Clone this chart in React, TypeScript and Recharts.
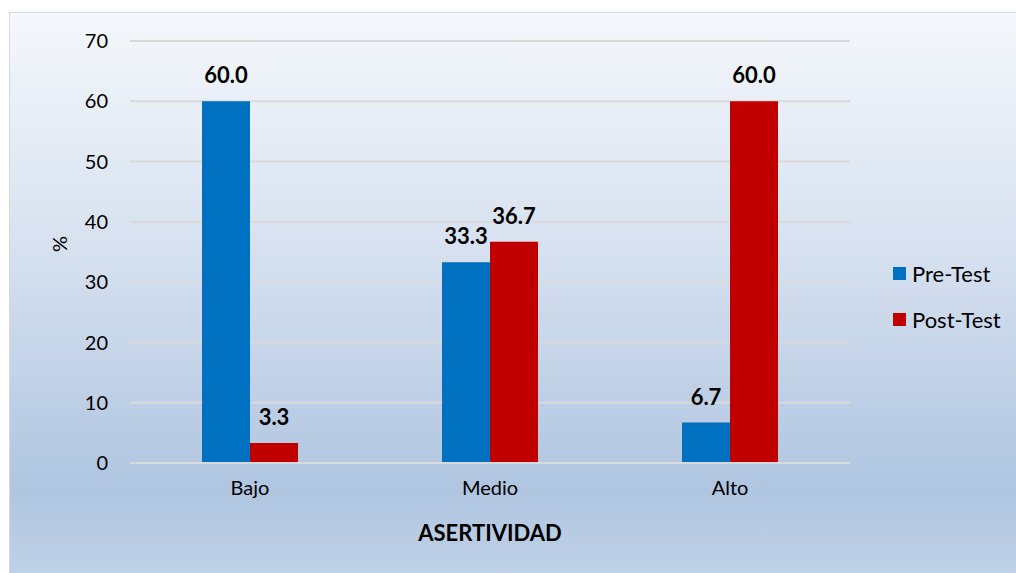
import React from "react";
import {
  Bar,
  BarChart,
  CartesianGrid,
  LabelList,
  Legend,
  XAxis,
  YAxis,
} from "recharts";

const categories = ["Bajo", "Medio", "Alto"];
const preTest = [60.0, 33.3, 6.7];
const postTest = [3.3, 36.7, 60.0];
const yTicks = [0, 10, 20, 30, 40, 50, 60, 70];

const FONT = "Lato, 'Open Sans', sans-serif";

const chartData = categories.map((name, i) => ({
  name,
  pre: preTest[i],
  post: postTest[i],
}));

function LegendBox() {
  const items = [
    { label: "Pre-Test", color: "#0070C0" },
    { label: "Post-Test", color: "#C00000" },
  ];
  return (
    <div style={{ fontFamily: FONT, fontSize: 22, color: "#000" }}>
      {items.map((it) => (
        <div
          key={it.label}
          style={{ display: "flex", alignItems: "center", height: 46 }}
        >
          <span
            style={{
              display: "inline-block",
              width: 13,
              height: 13,
              background: it.color,
              marginRight: 6,
            }}
          />
          {it.label}
        </div>
      ))}
    </div>
  );
}

export default function App() {
  return (
    <div
      style={{
        position: "fixed",
        left: 0,
        top: 0,
        width: 1016,
        height: 573,
        overflow: "hidden",
        background: "#fff",
      }}
    >
      <div
        style={{
          position: "absolute",
          left: 9,
          top: 12,
          width: 1020,
          height: 580,
          borderLeft: "1px solid #d9d9d9",
          borderTop: "1px solid #d9d9d9",
          background:
            "linear-gradient(to bottom, #f5f8fc 0%, #d3deee 45%, #afc5e0 82%, #c4d4e9 100%)",
        }}
      />
      <div style={{ position: "absolute", left: 0, top: 0 }}>
        <BarChart
          width={1016}
          height={573}
          data={chartData}
          margin={{ top: 41, right: 166, left: 70, bottom: 30 }}
          barCategoryGap="30%"
          barGap={0}
        >
          <CartesianGrid vertical={false} stroke="#d9d9d9" strokeWidth={2} />
          <XAxis
            dataKey="name"
            height={80}
            axisLine={{ stroke: "#d9d9d9", strokeWidth: 2 }}
            tickLine={false}
            tickSize={0}
            tickMargin={18}
            tick={{ fill: "#000", fontSize: 20, fontFamily: FONT }}
            label={{
              value: "ASERTIVIDAD",
              position: "insideBottom",
              offset: 2,
              fill: "#000",
              fontSize: 22,
              fontWeight: "bold",
              fontFamily: FONT,
            }}
          />
          <YAxis
            width={60}
            domain={[0, 70]}
            ticks={yTicks}
            axisLine={false}
            tickLine={false}
            tickSize={0}
            tickMargin={22}
            tick={{ fill: "#000", fontSize: 20, fontFamily: FONT }}
            label={{
              value: "%",
              angle: -90,
              position: "insideLeft",
              offset: -10,
              fill: "#000",
              fontSize: 20,
              fontFamily: FONT,
            }}
          />
          <Legend
            layout="vertical"
            align="center"
            verticalAlign="middle"
            content={() => <LegendBox />}
            wrapperStyle={{ left: 893, top: 250, width: 120 }}
          />
          <Bar dataKey="pre" name="Pre-Test" fill="#0070C0" isAnimationActive={false}>
            <LabelList
              dataKey="pre"
              position="top"
              offset={18}
              formatter={(v: number) => v.toFixed(1)}
              style={{ fill: "#000", fontSize: 22, fontWeight: "bold", fontFamily: FONT }}
            />
          </Bar>
          <Bar dataKey="post" name="Post-Test" fill="#C00000" isAnimationActive={false}>
            <LabelList
              dataKey="post"
              position="top"
              offset={18}
              formatter={(v: number) => v.toFixed(1)}
              style={{ fill: "#000", fontSize: 22, fontWeight: "bold", fontFamily: FONT }}
            />
          </Bar>
        </BarChart>
      </div>
    </div>
  );
}
